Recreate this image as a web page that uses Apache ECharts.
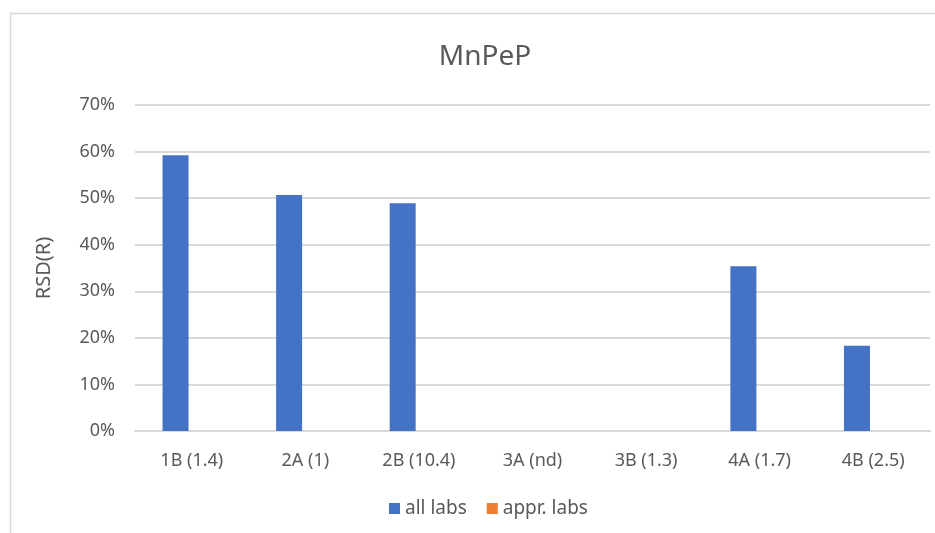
<!DOCTYPE html>
<html>
<head>
<meta charset="utf-8">
<script src="https://cdn.jsdelivr.net/npm/echarts@6/dist/echarts.min.js"></script>
<style>
html,body{margin:0;padding:0;background:#fff;}
#chart{width:935px;height:533px;}
</style>
</head>
<body>
<div id="chart"></div>
<script>
const categories = ['1B (1.4)', '2A (1)', '2B (10.4)', '3A (nd)', '3B (1.3)', '4A (1.7)', '4B (2.5)'];
const allLabs = [0.592, 0.507, 0.489, null, null, 0.354, 0.183];
const apprLabs = [null, null, null, null, null, null, null];
const yTicks = [0, 0.1, 0.2, 0.3, 0.4, 0.5, 0.6, 0.7];

const FONT = "'Noto Sans', sans-serif";
const chart = echarts.init(document.getElementById('chart'), null, {renderer: 'canvas'});
chart.setOption({
  animation: false,
  backgroundColor: '#fff',
  textStyle: {fontFamily: FONT},
  graphic: [{
    type: 'rect',
    shape: {x: 10.5, y: 13.5, width: 940, height: 540},
    style: {fill: 'none', stroke: '#d9d9d9', lineWidth: 1.5},
    silent: true
  }],
  title: {
    text: 'MnPeP',
    left: 480,
    textAlign: 'center',
    top: 38,
    textStyle: {fontFamily: FONT, fontSize: 28, fontWeight: 'normal', color: '#595959'}
  },
  legend: {
    data: ['all labs', 'appr. labs'],
    bottom: 10,
    left: 384,
    itemWidth: 11,
    itemHeight: 11,
    itemGap: 20,
    icon: 'rect',
    textStyle: {fontFamily: FONT, fontSize: 19, color: '#595959', padding: [0, 0, 0, 0]}
  },
  grid: {left: 135, right: 5, top: 105, bottom: 102},
  xAxis: {
    type: 'category',
    data: categories,
    axisLine: {lineStyle: {color: '#d9d9d9', width: 2}},
    axisTick: {show: false},
    axisLabel: {fontFamily: FONT, fontSize: 18, color: '#595959', margin: 21}
  },
  yAxis: {
    type: 'value',
    min: yTicks[0],
    max: yTicks[yTicks.length - 1],
    interval: 0.1,
    name: 'RSD(R)',
    nameLocation: 'middle',
    nameGap: 81,
    nameRotate: 90,
    nameTextStyle: {fontFamily: FONT, fontSize: 20, color: '#595959'},
    axisLine: {show: false},
    axisTick: {show: false},
    splitLine: {lineStyle: {color: '#d9d9d9', width: 2}},
    axisLabel: {
      fontFamily: FONT, fontSize: 18, color: '#595959', margin: 20,
      formatter: v => Math.round(v * 100) + '%'
    }
  },
  series: [
    {
      name: 'all labs', type: 'bar', data: allLabs,
      barWidth: 26, barGap: '25%',
      itemStyle: {color: '#4472c4'}
    },
    {
      name: 'appr. labs', type: 'bar', data: apprLabs,
      barWidth: 26,
      itemStyle: {color: '#ed7d31'}
    }
  ]
});
</script>
</body>
</html>
